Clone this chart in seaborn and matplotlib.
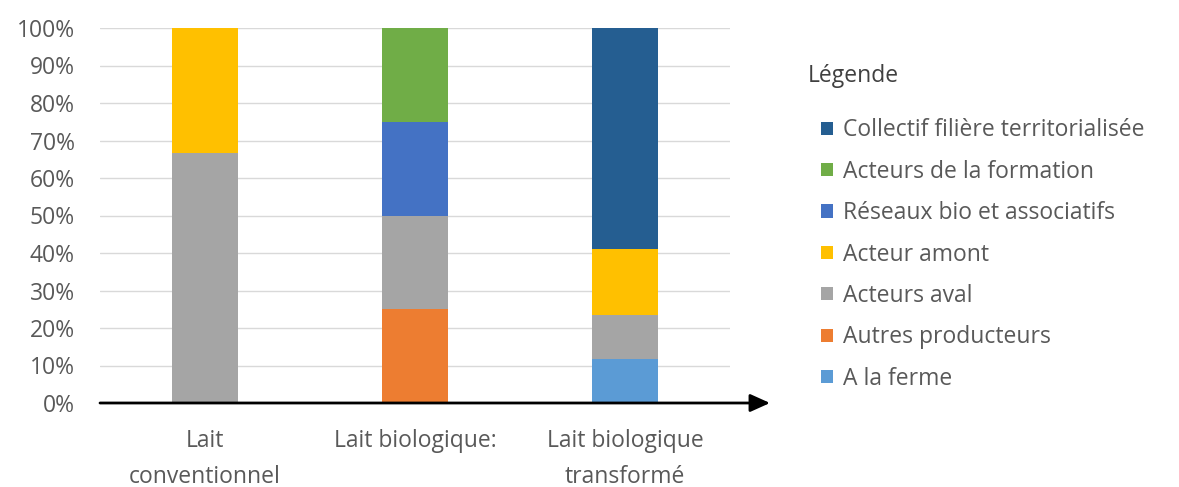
import matplotlib
matplotlib.use("Agg")
import matplotlib.pyplot as plt
import seaborn as sns
import pandas as pd
import numpy as np
from matplotlib.patches import Patch

categories = ["Lait\nconventionnel", "Lait biologique:", "Lait biologique\ntransformé"]
series_names = ["A la ferme", "Autres producteurs", "Acteurs aval", "Acteur amont",
                "Réseaux bio et associatifs", "Acteurs de la formation",
                "Collectif filière territorialisée"]
a_la_ferme = [0.0, 0.0, 11.76]
autres_producteurs = [0.0, 25.0, 0.0]
acteurs_aval = [66.67, 25.0, 11.76]
acteur_amont = [33.33, 0.0, 17.65]
reseaux_bio = [0.0, 25.0, 0.0]
acteurs_formation = [0.0, 25.0, 0.0]
collectif = [0.0, 0.0, 58.82]
colors = ["#5B9BD5", "#ED7D31", "#A5A5A5", "#FFC000", "#4472C4", "#70AD47", "#255E91"]

values = [a_la_ferme, autres_producteurs, acteurs_aval, acteur_amont,
          reseaux_bio, acteurs_formation, collectif]

sns.set_theme(style="white")
plt.rcParams['font.family'] = ['Open Sans', 'DejaVu Sans']

FS = 16.5
fig = plt.figure(figsize=(11.79, 4.87), dpi=100)
ax = fig.add_axes([100/1179, (487-403)/487, 630/1179, 375/487])

cum = np.cumsum(np.array(values), axis=0)
for i in range(len(series_names) - 1, -1, -1):
    df = pd.DataFrame({"cat": categories, "val": cum[i]})
    sns.barplot(data=df, x="cat", y="val", color=colors[i], saturation=1,
                width=0.31, ax=ax, zorder=3, linewidth=0)

ax.set_ylim(0, 100)
ax.set_xlim(-0.5, 2.5)
ax.set_yticks(np.arange(0, 101, 10))
ax.set_yticklabels([f"{v}%" for v in range(0, 101, 10)])
ax.yaxis.grid(True, color="#D9D9D9", linewidth=1, zorder=0)
ax.set_axisbelow(True)
for s in ["top", "right", "left", "bottom"]:
    ax.spines[s].set_visible(False)
ax.set_xlabel("")
ax.set_ylabel("")
ax.tick_params(axis="y", length=0, pad=18, labelsize=FS, labelcolor="#595959")
ax.tick_params(axis="x", length=0, pad=19, labelsize=FS, labelcolor="#595959")
for lbl in ax.get_xticklabels():
    lbl.set_linespacing(1.65)

# x axis arrow
ax.annotate("", xy=(670/630, 0), xycoords="axes fraction",
            xytext=(0, 0), textcoords="axes fraction",
            arrowprops=dict(arrowstyle="-|>,head_length=1.0,head_width=0.45",
                            color="black", lw=2, shrinkA=0, shrinkB=0),
            annotation_clip=False)

fig.text(808/1179, 1 - 76/487, "Légende", fontsize=FS, color="#404040",
         ha="left", va="center")

handles = [Patch(facecolor=colors[i], edgecolor="none") for i in range(len(series_names) - 1, -1, -1)]
labels = [series_names[i] for i in range(len(series_names) - 1, -1, -1)]
leg = fig.legend(handles, labels, loc="upper left",
                 bbox_to_anchor=(803/1179, 1 - 100/487), frameon=False,
                 fontsize=FS, handlelength=0.5, handleheight=0.5,
                 handletextpad=0.45, labelspacing=0.76, labelcolor="#595959",
                 borderpad=0.3)

fig.savefig("out.png", dpi=100)
